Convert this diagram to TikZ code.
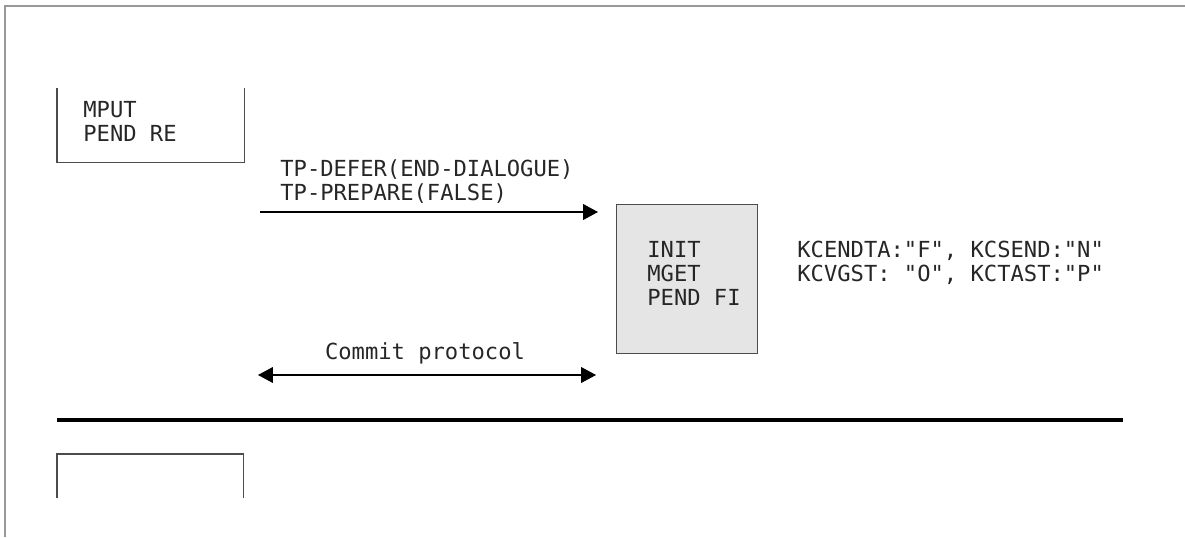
\documentclass[tikz,border=0pt]{standalone}
\usepackage{fontspec}
\newfontfamily\utmfont{DejaVu Sans Mono}
\usetikzlibrary{arrows.meta,positioning}

\begin{document}
\begin{tikzpicture}[
    x=0.02cm, y=-0.02cm,
    every node/.style={font=\utmfont\fontsize{12.6}{13.6}\selectfont, text=black!85, inner sep=0pt},
    frame/.style={draw=black!40, line width=1.1pt},
    prog/.style={align=left, anchor=base west},
    openbox/.style={minimum width=5.34cm, anchor=north west},
    taskbox/.style={draw=black!70, fill=black!10, line width=0.8pt, minimum width=2.82cm, minimum height=2.98cm, anchor=north west},
    msg/.style={-{Triangle[length=8.5pt, width=9pt]}, line width=0.6pt},
    both/.style={{Triangle[length=8.5pt, width=9pt]}-{Triangle[length=8.5pt, width=9pt]}, line width=0.6pt}
]
\useasboundingbox (0,0) rectangle (1185,537);
\draw[frame] (5,537) -- (5,6) -- (1185,6);

% process before the sync point
\node[openbox, minimum width=3.74cm, minimum height=1.48cm] (mputbox) at (57,88) {};
\draw[black!70, line width=0.8pt] (mputbox.north west) -- (mputbox.south west) -- (mputbox.south east) -- (mputbox.north east);
\node[prog] (mput) at (83,141) {MPUT\\PEND RE};

% message to the partner
\coordinate (deferstart) at (260,212);
\coordinate (deferend) at (598,212);
\draw[msg] (deferstart) -- (deferend);
\node[prog] (defer) at (280,200) {TP-DEFER(END-DIALOGUE)\\TP-PREPARE(FALSE)};

% partner task
\node[taskbox] (task) at (616,204) {};
\node[prog] (init) at (647,305) {INIT\\MGET\\PEND FI};
\node[prog] (kcdata) at (797,281) {KCENDTA:"F", KCSEND:"N"\\KCVGST: "O", KCTAST:"P"};

% commit
\node[anchor=base] (commit) at (425,359) {Commit protocol};
\coordinate (commitleft) at (258,375);
\coordinate (commitright) at (596,375);
\draw[both] (commitleft) -- (commitright);

% sync point
\coordinate (syncleft) at (57,420);
\coordinate (syncright) at (1123,420);
\draw[line width=2.8pt] (syncleft) -- (syncright);

\node[openbox, minimum width=3.72cm, minimum height=0.86cm] (nextbox) at (57,454) {};
\draw[black!70, line width=0.8pt] (nextbox.south west) -- (nextbox.north west) -- (nextbox.north east) -- (nextbox.south east);
\end{tikzpicture}
\end{document}
